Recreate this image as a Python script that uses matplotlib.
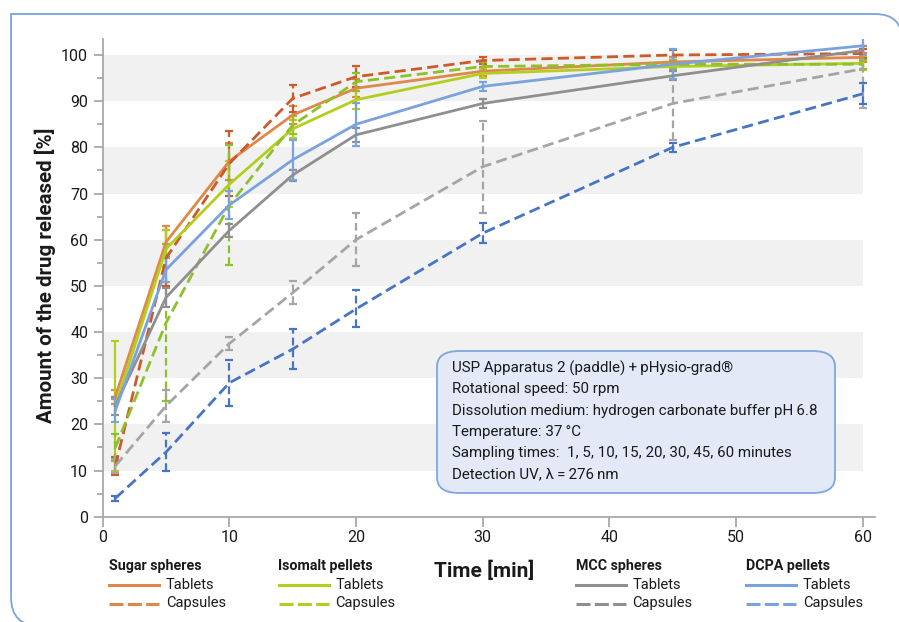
import matplotlib
matplotlib.use("Agg")
import matplotlib.pyplot as plt
from matplotlib.patches import Rectangle, FancyBboxPatch, PathPatch
from matplotlib.path import Path
from matplotlib.lines import Line2D

plt.rcParams['font.family'] = ['Roboto', 'DejaVu Sans']

# ---------------- data ----------------
time = [1, 5, 10, 15, 20, 30, 45, 60]

sugar_tab = [26, 59.5, 77, 87, 92.8, 96.5, 98.5, 99.5]
sugar_tab_err = [1.5, 3.5, 4, 2, 2, 1, 1, 1]
sugar_cap = [11, 56, 76.5, 90.6, 95.3, 98.8, 100, 100.3]
sugar_cap_err = [2, 6, 7, 3, 2.3, 0.8, 1, 1]

isomalt_tab = [24, 58, 72, 84, 90.3, 96, 97.5, 98.2]
isomalt_tab_err = [14, 4, 5, 2, 2, 1, 1, 1.5]
isomalt_cap = [15, 42, 67.5, 84.8, 94.2, 97.5, 98, 98]
isomalt_cap_err = [3, 17, 13, 2, 2, 1, 1, 1]

mcc_tab = [24, 47.5, 62, 74, 82.7, 89.5, 95.5, 101]
mcc_tab_err = [2, 2, 1.5, 1.2, 1.5, 1, 1, 1]
mcc_cap = [11, 24, 37.5, 48.5, 60, 75.8, 89.5, 97]
mcc_cap_err = [1.5, 3.5, 1.5, 2.5, 5.8, 10, 8, 8.5]

dcpa_tab = [23, 53.5, 67.5, 77.3, 85, 93.2, 98, 102]
dcpa_tab_err = [2.5, 2.7, 3, 4.3, 4.7, 1, 3.3, 2]
dcpa_cap = [4, 14, 29, 36.3, 45, 61.4, 80, 91.6]
dcpa_cap_err = [0.5, 4.2, 5, 4.3, 4, 2.2, 1, 2.3]

groups = ["Sugar spheres", "Isomalt pellets", "MCC spheres", "DCPA pellets"]
forms = ["Tablets", "Capsules"]
xticks = [0, 10, 20, 30, 40, 50, 60]
yticks = [0, 10, 20, 30, 40, 50, 60, 70, 80, 90, 100]

info_lines = [
    "USP Apparatus 2 (paddle)\u2009+\u2009pHysio-grad\u00ae",
    "Rotational speed: 50 rpm",
    "Dissolution medium: hydrogen carbonate buffer pH\u20096.8",
    "Temperature: 37\u2009\u00b0C",
    "Sampling times:  1, 5, 10, 15, 20, 30, 45, 60 minutes",
    "Detection UV, \u03bb\u2009=\u2009276\u2009nm",
]

# ---------------- styles ----------------
colors = {
    ("Sugar spheres", "Tablets"): "#E0884A",
    ("Sugar spheres", "Capsules"): "#CC5A2A",
    ("Isomalt pellets", "Tablets"): "#B3CE1E",
    ("Isomalt pellets", "Capsules"): "#8DC12C",
    ("MCC spheres", "Tablets"): "#8F8F8F",
    ("MCC spheres", "Capsules"): "#A5A5A5",
    ("DCPA pellets", "Tablets"): "#7AA2DD",
    ("DCPA pellets", "Capsules"): "#4874C6",
}
series = {
    ("Sugar spheres", "Tablets"): (sugar_tab, sugar_tab_err),
    ("Sugar spheres", "Capsules"): (sugar_cap, sugar_cap_err),
    ("Isomalt pellets", "Tablets"): (isomalt_tab, isomalt_tab_err),
    ("Isomalt pellets", "Capsules"): (isomalt_cap, isomalt_cap_err),
    ("MCC spheres", "Tablets"): (mcc_tab, mcc_tab_err),
    ("MCC spheres", "Capsules"): (mcc_cap, mcc_cap_err),
    ("DCPA pellets", "Tablets"): (dcpa_tab, dcpa_tab_err),
    ("DCPA pellets", "Capsules"): (dcpa_cap, dcpa_cap_err),
}
DASH = (0, (4.0, 1.9))

W, H = 899, 622
fig = plt.figure(figsize=(W / 100, H / 100), dpi=100)

def fx(px):
    return px / W

def fy(py):
    return 1 - py / H

ax_left, ax_right, ax_top, ax_bottom = 102.7, 875, 39.3, 516.7
ax = fig.add_axes([fx(ax_left), fy(ax_bottom), fx(ax_right) - fx(ax_left), fy(ax_top) - fy(ax_bottom)])
ax.set_xlim(0, 60.97)
ax.set_ylim(0, 103.4)

# background bands
for y0 in range(10, 100, 20):
    ax.add_patch(Rectangle((0, y0), 60, 10, facecolor="#F1F1F1", edgecolor="none", zorder=0))

for g in groups:
    for f in forms:
        vals, err = series[(g, f)]
        c = colors[(g, f)]
        ls = "-" if f == "Tablets" else DASH
        eb = ax.errorbar(time, vals, yerr=err, color=c, lw=2.0, ls=ls,
                         capsize=3.2, capthick=1.6, elinewidth=1.6, zorder=3)
        if f == "Capsules":
            eb[2][0].set_linestyle((0, (3.5, 1.8)))

for s in ["top", "right"]:
    ax.spines[s].set_visible(False)
for s in ["left", "bottom"]:
    ax.spines[s].set_color("#A8A8A8")
    ax.spines[s].set_linewidth(1.3)

ax.set_xticks(xticks)
ax.set_yticks(yticks)
ax.set_yticks(list(range(5, 100, 10)), minor=True)
ax.tick_params(axis="both", which="major", color="#A8A8A8", width=1.3, labelsize=11.5,
               labelcolor="#1a1a1a")
ax.tick_params(axis="y", which="major", length=6.5, pad=4)
ax.tick_params(axis="y", which="minor", length=4.3, width=1.3, color="#A8A8A8")
ax.tick_params(axis="x", which="major", length=7.5, pad=2)
ax.set_facecolor("none")

# y label
fig.text(fx(45), fy(275), "Amount of the drug released [%]", rotation=90,
         ha="center", va="center", fontsize=14.8, fontweight="bold", color="#1a1a1a")
# x label
fig.text(fx(484), fy(571), "Time [min]", ha="center", va="center",
         fontsize=15, fontweight="bold", color="#1a1a1a")

# info box
bx0, bx1, by0, by1 = 437, 835, 351, 493
box = FancyBboxPatch((fx(bx0), fy(by1)), fx(bx1) - fx(bx0), fy(by0) - fy(by1),
                     boxstyle="round,pad=0,rounding_size=0.025",
                     transform=fig.transFigure, facecolor="#E3E9F7",
                     edgecolor="#7EA6DC", linewidth=1.3, zorder=5)
fig.patches.append(box)
for i, line in enumerate(info_lines):
    fig.text(fx(452), fy(368 + 21.3 * i), line, ha="left", va="center",
             fontsize=10.9, color="#1a1a1a", zorder=6)

# legend (manual)
leg_x = [109, 278.5, 575.5, 746]
for g, x0 in zip(groups, leg_x):
    fig.text(fx(x0), fy(566), g, ha="left", va="center", fontsize=10.3,
             fontweight="bold", color="#1a1a1a")
    for j, f in enumerate(forms):
        yy = fy(585 + 18.5 * j)
        ls = "-" if f == "Tablets" else (0, (4.6, 1.4))
        fig.add_artist(Line2D([fx(x0), fx(x0 + 50)], [yy, yy], color=colors[(g, "Tablets")],
                              lw=2.2, ls=ls, transform=fig.transFigure))
        fig.text(fx(x0 + 57), yy, f, ha="left", va="center", fontsize=10.5,
                 color="#1a1a1a")

# figure frame
pts = [(40, 626), (11, 626), (11, 597), (11, 14), (875, 14), (902, 14), (902, 40)]
codes = [Path.MOVETO, Path.CURVE3, Path.CURVE3, Path.LINETO, Path.LINETO, Path.CURVE3, Path.CURVE3]
path = Path([(fx(a), fy(b)) for a, b in pts], codes)
fig.patches.append(PathPatch(path, transform=fig.transFigure, facecolor="none",
                             edgecolor="#7AA3DC", linewidth=1.3))

fig.savefig("out.png", dpi=100)
